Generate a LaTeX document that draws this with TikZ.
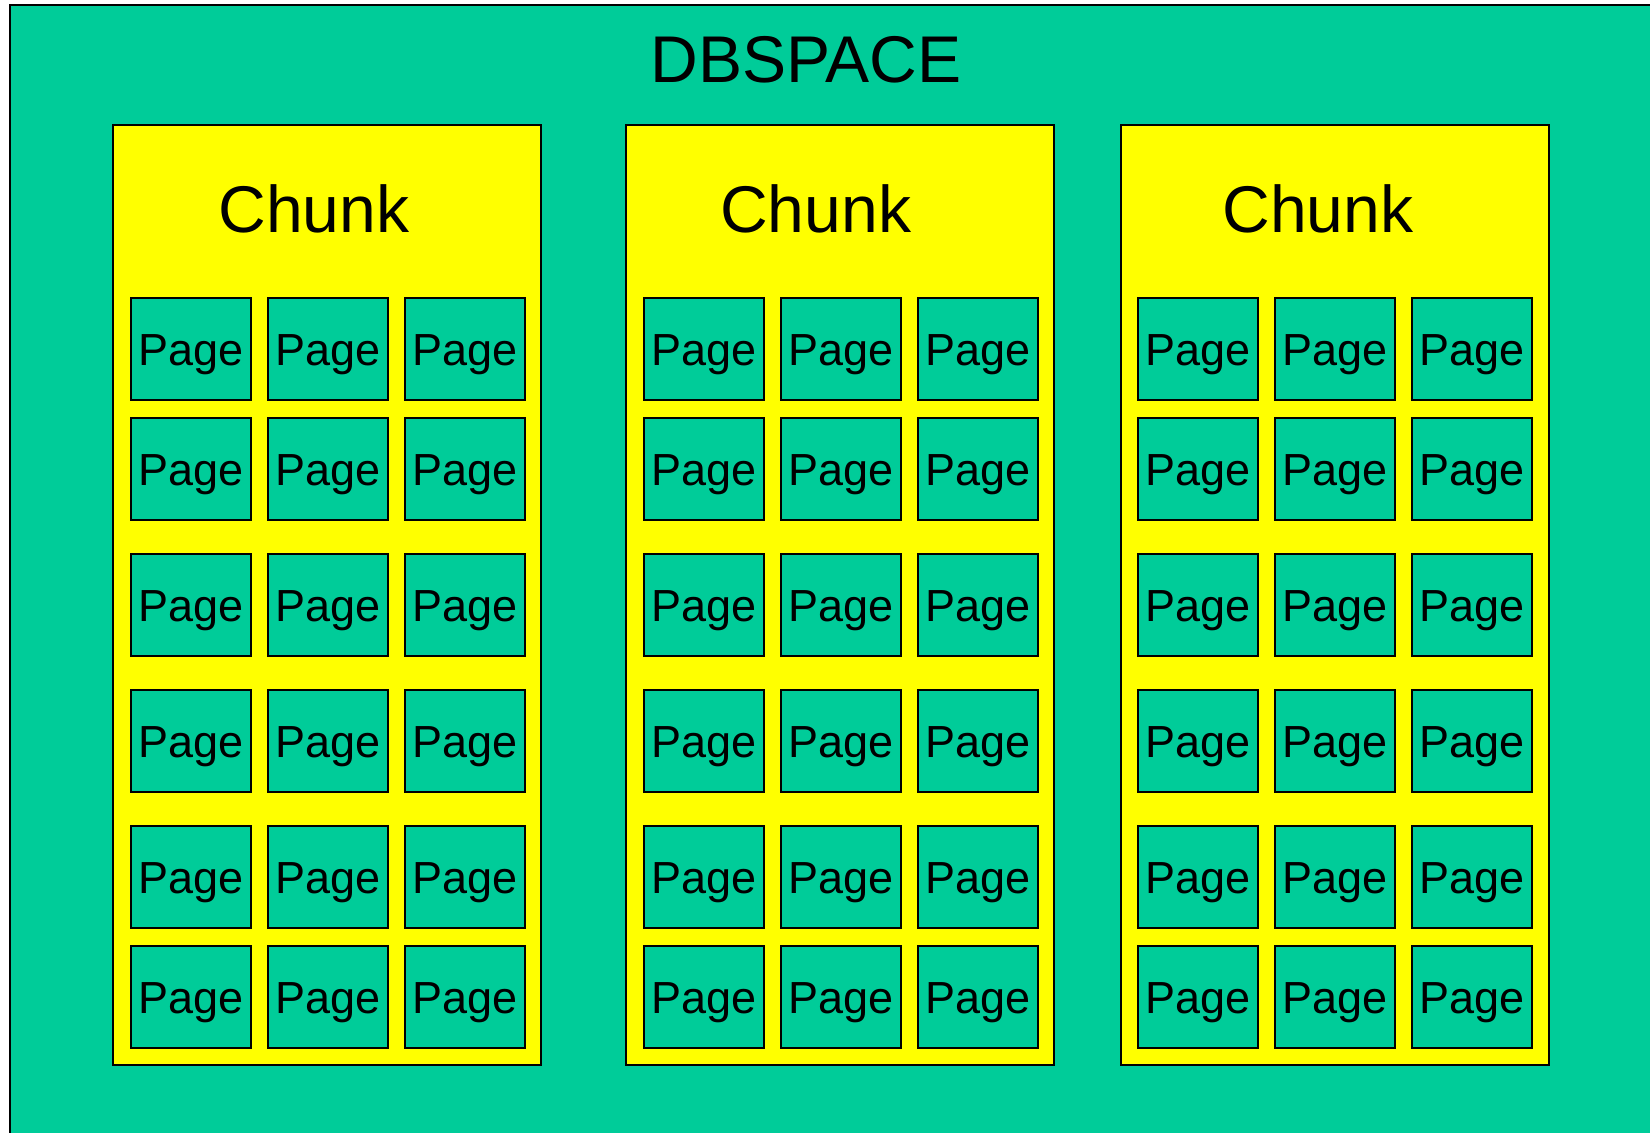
\documentclass[tikz,border=0pt]{standalone}
\usepackage{fontspec}
\setmainfont{Liberation Sans}
\usepackage{xcolor}
\usepackage{tikz}
\usetikzlibrary{matrix, positioning}

\definecolor{dbgreen}{HTML}{00CC99}
\definecolor{chunkyellow}{HTML}{FFFF00}

\begin{document}
\begin{tikzpicture}
    % Define node styles
    \tikzstyle{space} = [rectangle, draw, line width=1.4pt, fill=dbgreen, inner sep=0pt, outer sep=0pt, minimum width=41.5cm, minimum height=28.5cm]
    \tikzstyle{chunk} = [rectangle, draw, line width=1.4pt, fill=chunkyellow, inner sep=0pt, outer sep=0pt, minimum width=10.7cm, minimum height=23.5cm]
    \tikzstyle{title} = [inner sep=0pt, font=\fontsize{47}{56}\selectfont]
    \tikzstyle{page} = [rectangle, draw, line width=1.4pt, fill=dbgreen, inner sep=0pt, outer sep=0pt, minimum width=3cm, minimum height=2.55cm, text height=0.81cm, text depth=0pt, font=\fontsize{32}{38}\selectfont]
    \tikzstyle{pages} = [ampersand replacement=\&, matrix of nodes, nodes={page}, inner sep=0pt, outer sep=0pt, column sep=0.375cm, row sep=0.4cm]

    \useasboundingbox (0,0) rectangle (41.25,-28.325);
    \fill[white] (0,0) rectangle (41.25,-28.325);

    % Outer dbspace
    \node[space, anchor=north west] (db) at (0.25,-0.125) {};
    \node[title, anchor=base] (dbtitle) at (20.15,-2.075) {DBSPACE};

    % The three chunks
    \node[chunk, anchor=north west] (ch1) at (2.825,-3.125) {};
    \node[chunk, anchor=north west] (ch2) at (15.65,-3.125) {};
    \node[chunk, anchor=north west] (ch3) at (28.025,-3.125) {};

    \node[title, anchor=base] (t1) at (7.85,-5.825) {Chunk};
    \node[title, anchor=base] (t2) at (20.39,-5.825) {Chunk};
    \node[title, anchor=base] (t3) at (32.95,-5.825) {Chunk};

    % Pages of the first chunk
    \matrix (c1) [pages, below right=4.3cm and 0.425cm of ch1.north west]
    {
        Page \& Page \& Page \\
        Page \& Page \& Page \\[0.4cm]
        Page \& Page \& Page \\[0.4cm]
        Page \& Page \& Page \\[0.4cm]
        Page \& Page \& Page \\
        Page \& Page \& Page \\
    };

    % Pages of the second chunk
    \matrix (c2) [pages, below right=4.3cm and 0.425cm of ch2.north west]
    {
        Page \& Page \& Page \\
        Page \& Page \& Page \\[0.4cm]
        Page \& Page \& Page \\[0.4cm]
        Page \& Page \& Page \\[0.4cm]
        Page \& Page \& Page \\
        Page \& Page \& Page \\
    };

    % Pages of the third chunk
    \matrix (c3) [pages, below right=4.3cm and 0.4cm of ch3.north west]
    {
        Page \& Page \& Page \\
        Page \& Page \& Page \\[0.4cm]
        Page \& Page \& Page \\[0.4cm]
        Page \& Page \& Page \\[0.4cm]
        Page \& Page \& Page \\
        Page \& Page \& Page \\
    };
\end{tikzpicture}
\end{document}
